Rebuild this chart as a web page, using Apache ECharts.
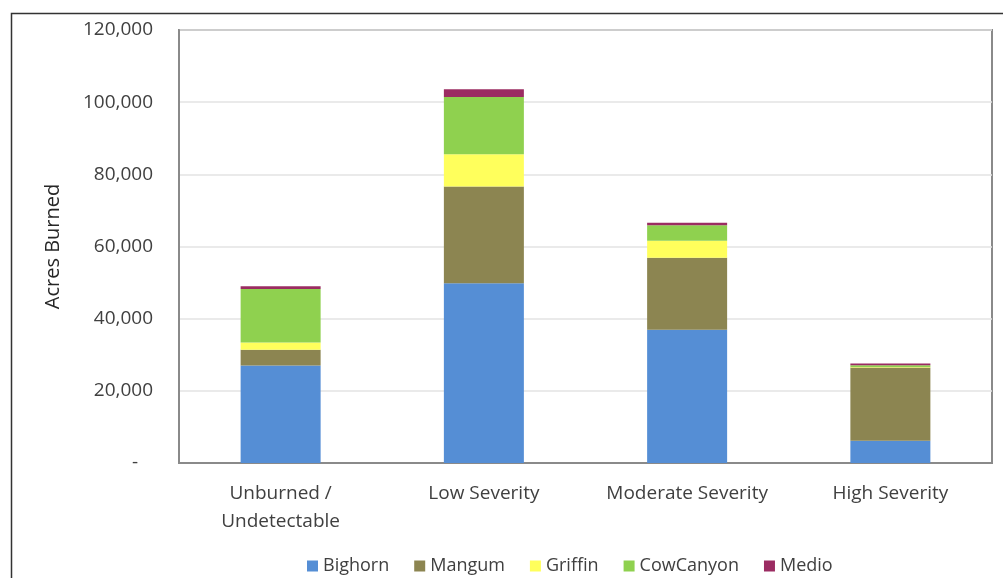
<!DOCTYPE html>
<html>
<head>
<meta charset="utf-8">
<script src="https://cdn.jsdelivr.net/npm/echarts@6/dist/echarts.min.js"></script>
<style>
html,body{margin:0;padding:0;background:#fff;}
#chart{width:1003px;height:578px;}
</style>
</head>
<body>
<div id="chart"></div>
<script>
const categories = ['Unburned /\nUndetectable', 'Low Severity', 'Moderate Severity', 'High Severity'];
const seriesNames = ['Bighorn', 'Mangum', 'Griffin', 'CowCanyon', 'Medio'];
const bighorn   = [27000, 49800, 36900, 6200];
const mangum    = [4400, 26800, 20000, 20300];
const griffin   = [2000, 9000, 4700, 100];
const cowCanyon = [14800, 15800, 4300, 500];
const medio     = [800, 2200, 700, 500];
const yTicks = [0, 20000, 40000, 60000, 80000, 100000, 120000];

const colors = ['#558ed5', '#8c8551', '#ffff5c', '#8fd14f', '#9b2c62'];
const values = [bighorn, mangum, griffin, cowCanyon, medio];
const FONT = 'Open Sans';

const chart = echarts.init(document.getElementById('chart'));
chart.setOption({
  animation: false,
  textStyle: { fontFamily: FONT },
  graphic: [{
    type: 'rect', left: 9, top: 11,
    shape: { width: 1100, height: 1000 },
    style: { fill: 'none', stroke: '#333', lineWidth: 1.5 },
    silent: true
  }],
  grid: { left: 179, right: 11, top: 30, bottom: 115, show: true, borderColor: '#8a8a8a', borderWidth: 2, containLabel: false },
  legend: {
    left: 302, top: 552,
    itemWidth: 11, itemHeight: 11, itemGap: 25,
    icon: 'rect',
    textStyle: { fontSize: 18, color: '#404040', fontFamily: FONT },
    data: seriesNames
  },
  xAxis: {
    type: 'category', data: categories,
    axisLine: { lineStyle: { color: '#8a8a8a', width: 2 } },
    axisTick: { show: false },
    axisLabel: { fontSize: 19, color: '#404040', margin: 17, lineHeight: 28, interval: 0 }
  },
  yAxis: {
    type: 'value', min: yTicks[0], max: yTicks[yTicks.length - 1], interval: 20000,
    name: 'Acres Burned', nameLocation: 'middle', nameGap: 116, nameRotate: 90,
    nameTextStyle: { fontSize: 20, color: '#262626', fontFamily: FONT },
    axisLine: { show: true, lineStyle: { color: '#8a8a8a', width: 2 } },
    axisTick: { show: false },
    splitLine: { lineStyle: { color: '#e3e3e3', width: 1.5 } },
    axisLabel: {
      fontSize: 19, color: '#404040', margin: 26,
      formatter: v => v === 0 ? '-   ' : v.toLocaleString('en-US')
    }
  },
  series: seriesNames.map((n, i) => ({
    name: n, type: 'bar', stack: 'total', barWidth: 80,
    itemStyle: { color: colors[i] },
    data: values[i]
  }))
});
</script>
</body>
</html>
